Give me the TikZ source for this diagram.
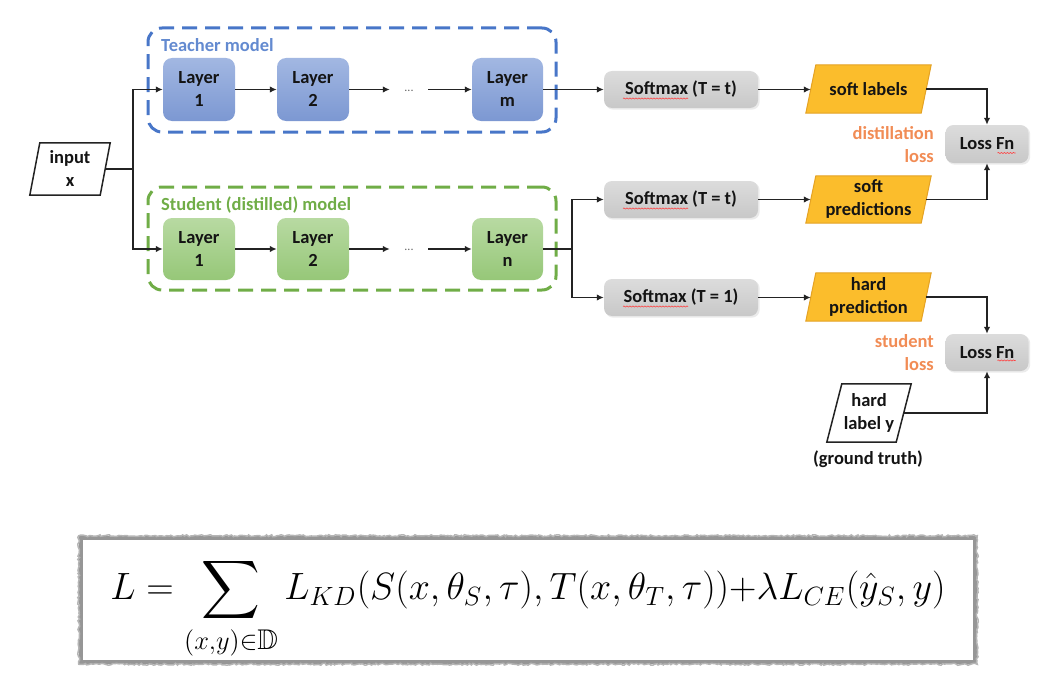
\documentclass[tikz,border=0pt]{standalone}
\usepackage[no-math]{fontspec}
\setmainfont{Carlito}
\usepackage{amssymb}
\usepackage{graphicx}
\usetikzlibrary{arrows.meta,decorations.pathmorphing,backgrounds,calc}

\definecolor{tblue}{RGB}{72,118,200}
\definecolor{sgreen}{RGB}{112,173,71}
\definecolor{tblueA}{RGB}{162,183,226}
\definecolor{tblueB}{RGB}{124,152,210}
\definecolor{sgreenA}{RGB}{184,218,162}
\definecolor{sgreenB}{RGB}{150,199,120}
\definecolor{grayA}{RGB}{220,220,220}
\definecolor{grayB}{RGB}{200,200,200}
\definecolor{orfill}{RGB}{251,189,44}
\definecolor{ordraw}{RGB}{228,162,36}
\definecolor{ortext}{RGB}{241,140,85}
\definecolor{linec}{RGB}{35,35,35}
\definecolor{txt}{RGB}{20,20,20}
\definecolor{fgray}{RGB}{150,150,150}

\begin{document}
\begin{tikzpicture}[x=1pt,y=-1pt,
  font=\fontsize{18.5}{23}\selectfont\bfseries,
  conn/.style={draw=linec, line width=1.6pt},
  arr/.style={conn, -{Latex[length=7pt,width=6.5pt]}},
  layerbox/.style={rounded corners=9pt, minimum width=72pt, minimum height=63pt,
     align=center, inner sep=0pt, text=txt},
  tlayer/.style={layerbox, top color=tblueA, bottom color=tblueB},
  slayer/.style={layerbox, top color=sgreenA, bottom color=sgreenB},
  graybox/.style={rounded corners=8pt, top color=grayA, bottom color=grayB,
     inner sep=0pt, align=center, text=txt},
  smbox/.style={graybox, minimum width=154pt, minimum height=37pt},
  lossbox/.style={graybox, minimum width=83pt, minimum height=38pt},
  paranode/.style={inner sep=0pt, align=center, text=txt},
  dashbox/.style={rounded corners=14pt, line width=3pt, dash pattern=on 15pt off 8pt,
     minimum width=408pt, inner sep=0pt},
  dots/.style={inner sep=0pt, minimum width=38pt, font=\fontsize{12}{14}\selectfont, text=linec!70},
  lossnote/.style={align=right, text=ortext, inner sep=0pt},
  squig/.style={draw=red!75, line width=0.6pt, decorate,
     decoration={snake, amplitude=0.6pt, segment length=3pt}}
]
\useasboundingbox (0,0) rectangle (1052,685);

% ---- dashed model frames
\node[dashbox, draw=tblue, minimum height=104pt] (tbox) at (352,80) {};
\node[dashbox, draw=sgreen, minimum height=103pt] (sbox) at (352,238.5) {};
\node[anchor=west, text=tblue!85, inner sep=0pt] (tlab) at (161,45) {Teacher model};
\node[anchor=west, text=sgreen, inner sep=0pt] (slab) at (161,205) {Student (distilled) model};

% ---- input
\node[paranode, minimum width=80pt, minimum height=52pt] (inp) at (70,169) {input\\x};

% ---- teacher layers
\node[tlayer] (T1) at (199,89.5) {Layer\\1};
\node[tlayer] (T2) at (313,89.5) {Layer\\2};
\node[dots] (Tdots) at (409,89.5) {\raisebox{-3.5pt}{...}};
\node[tlayer, minimum width=71pt] (Tm) at (507.5,89.5) {Layer\\m};

% ---- student layers
\node[slayer, minimum height=62pt] (S1) at (199,249) {Layer\\1};
\node[slayer, minimum height=62pt] (S2) at (313,249) {Layer\\2};
\node[dots] (Sdots) at (409,249) {\raisebox{-3.5pt}{...}};
\node[slayer, minimum width=71pt, minimum height=62pt] (Sn) at (507.5,249) {Layer\\n};

% ---- softmax
\node[smbox] (SmT) at (681,89.5) {Softmax (T = t)};
\node[smbox] (SmS) at (681,199.5) {Softmax (T = t)};
\node[smbox] (SmH) at (681,297.5) {Softmax (T = 1)};

% ---- outputs
\node[paranode, minimum width=125pt, minimum height=48pt] (SL) at (868.5,89) {soft labels};
\node[paranode, minimum width=125pt, minimum height=47pt] (SP) at (868.5,199.5) {soft\\predictions};
\node[paranode, minimum width=125pt, minimum height=48pt] (HP) at (868.5,297) {hard\\prediction};
\node[paranode, minimum width=84pt, minimum height=58pt] (HL) at (869,413) {hard\\label y};
\node[inner sep=0pt, text=txt] (GT) at (868,459) {(ground truth)};

% ---- losses
\node[lossbox] (L1) at (987,144) {Loss Fn};
\node[lossbox, minimum height=37pt] (L2) at (987,352.5) {Loss Fn};
\node[lossnote, anchor=east] (dist) at (934,145) {distillation\\loss};
\node[lossnote, anchor=east] (stud) at (934,352.5) {student\\loss};

% ---- parallelogram outlines and faint shadows (behind)
\begin{scope}[on background layer]
  \foreach \b in {SmT,SmS,SmH,L1,L2}{
    \fill[black, opacity=0.08, rounded corners=8pt]
      ([shift={(1.5pt,-1.5pt)}]\b.north west) rectangle ([shift={(1.5pt,-1.5pt)}]\b.south east);
  }
  \draw[fill=white, draw=linec, line width=1.5pt]
    ([xshift=10pt]inp.north west) -- (inp.north east) -- ([xshift=-10pt]inp.south east) -- (inp.south west) -- cycle;
  \draw[fill=white, draw=linec, line width=1.5pt]
    ([xshift=15pt]HL.north west) -- (HL.north east) -- ([xshift=-15pt]HL.south east) -- (HL.south west) -- cycle;
  \foreach \p in {SL,SP,HP}{
    \draw[fill=orfill, draw=ordraw, line width=1pt]
      ([xshift=10pt]\p.north west) -- (\p.north east) -- ([xshift=-10pt]\p.south east) -- (\p.south west) -- cycle;
  }
\end{scope}

% ---- junctions
\coordinate (jin) at (133,169);
\coordinate (jout) at (572,249);

% ---- connectors
\draw[conn] ([xshift=-5pt]inp.east) -- (jin);
\draw[arr] (jin) |- (T1.west);
\draw[arr] (jin) |- (S1.west);
\draw[arr] (T1) -- (T2);
\draw[arr] (T2) -- (Tdots);
\draw[arr] (Tdots) -- (Tm);
\draw[arr] (S1) -- (S2);
\draw[arr] (S2) -- (Sdots);
\draw[arr] (Sdots) -- (Sn);
\draw[arr] (Tm) -- (SmT);
\draw[conn] (Sn.east) -- (jout);
\draw[arr] (jout) |- (SmS.west);
\draw[arr] (jout) |- (SmH.west);
\draw[arr] (SmT.east) -- ([xshift=5pt]SL.west |- SmT.east);
\draw[arr] (SmS.east) -- ([xshift=5pt]SP.west |- SmS.east);
\draw[arr] (SmH.east) -- ([xshift=5pt]HP.west |- SmH.east);
\draw[arr] ([xshift=-5pt]SL.east) -| (L1.north);
\draw[arr] ([xshift=-5pt]SP.east) -| (L1.south);
\draw[arr] ([xshift=-5pt]HP.east) -| (L2.north);
\draw[arr] ([xshift=-7.5pt]HL.east) -| (L2.south);

% ---- spell-check squiggles
\foreach \s in {SmT,SmS,SmH}{
  \draw[squig] ([shift={(-58pt,-9pt)}]\s.center) -- ++(65pt,0pt);
}
\draw[squig] ([shift={(10.5pt,-9pt)}]L1.center) -- ++(18pt,0pt);
\draw[squig] ([shift={(10.5pt,-8pt)}]L2.center) -- ++(18pt,0pt);

% ---- formula
\node[draw=fgray, line width=4.5pt, minimum width=894pt, minimum height=124pt, inner sep=0pt] (fbox) at (528,600) {};
\draw[draw=fgray!70, line width=1.5pt, decorate, decoration={random steps, segment length=2pt, amplitude=1pt}]
  (fbox.north west) rectangle (fbox.south east);
\node[inner sep=0pt] (formula) at (528,609)
  {\resizebox{835pt}{!}{$\displaystyle L = \sum_{(x,y)\in\mathbb{D}} L_{KD}(S(x,\theta_S,\tau),T(x,\theta_T,\tau)){+}\lambda L_{CE}(\hat{y}_S,y)$}};
\end{tikzpicture}
\end{document}
